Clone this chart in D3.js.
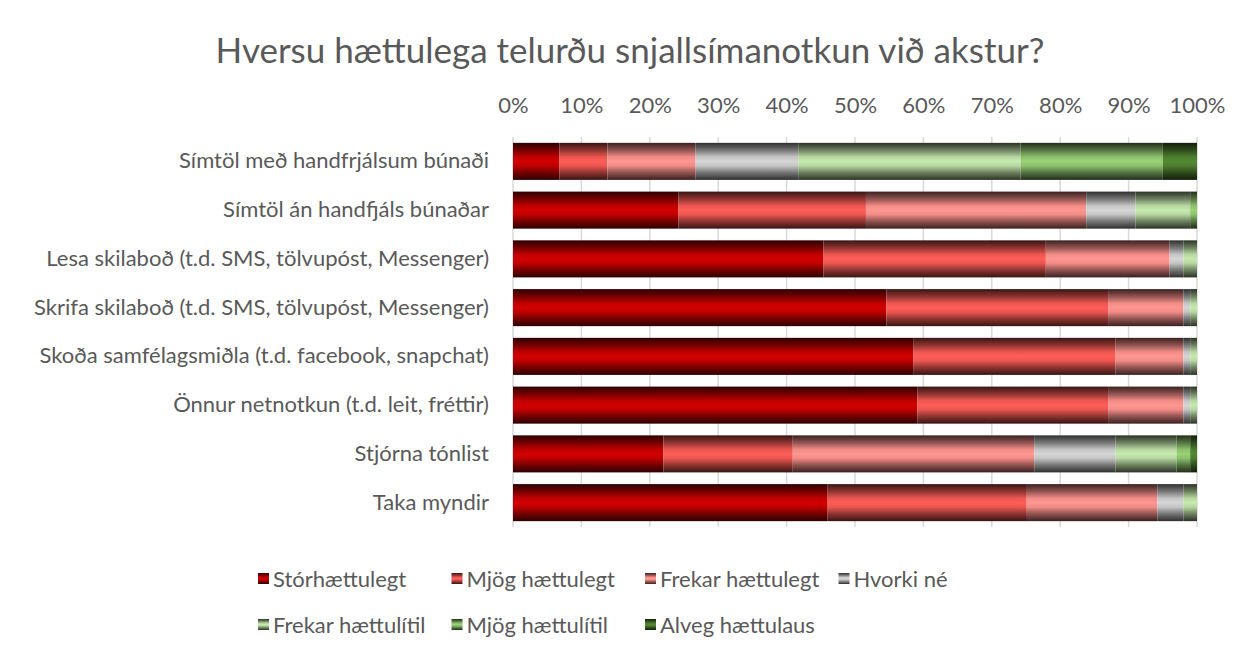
<!DOCTYPE html>
<html>
<head>
<meta charset="utf-8">
<script src="https://cdn.jsdelivr.net/npm/d3@7"></script>
<style>
    body { margin: 0; background: #fff; }
    svg text { font-family: Lato, "Open Sans", sans-serif; fill: #595959; }
</style>
</head>
<body>
<svg width="1236" height="650"></svg>
<script>
// chart data
const categories = [
    "Símtöl með handfrjálsum búnaði",
    "Símtöl án handfjáls búnaðar",
    "Lesa skilaboð (t.d. SMS, tölvupóst, Messenger)",
    "Skrifa skilaboð (t.d. SMS, tölvupóst, Messenger)",
    "Skoða samfélagsmiðla (t.d. facebook, snapchat)",
    "Önnur netnotkun (t.d. leit, fréttir)",
    "Stjórna tónlist",
    "Taka myndir"
];
const seriesNames = ["Stórhættulegt", "Mjög hættulegt", "Frekar hættulegt", "Hvorki né",
    "Frekar hættulítil", "Mjög hættulítil", "Alveg hættulaus"];
const storhaettulegt = [6.8, 24.2, 45.4, 54.6, 58.5, 59.1, 22.0, 46.0];
const mjogHaettulegt = [7.0, 27.4, 32.5, 32.4, 29.6, 27.9, 18.9, 29.0];
const frekarHaettulegt = [12.9, 32.2, 18.1, 11.0, 9.9, 11.0, 35.3, 19.2];
const hvorkiNe = [15.0, 7.2, 2.0, 1.0, 1.0, 1.0, 11.9, 3.8];
const frekarHaettulitil = [32.5, 8.0, 2.0, 1.0, 1.0, 1.0, 8.9, 2.0];
const mjogHaettulitil = [20.8, 1.0, 0, 0, 0, 0, 2.0, 0];
const alvegHaettulaus = [5.0, 0, 0, 0, 0, 0, 1.0, 0];
const tickValues = [0, 0.1, 0.2, 0.3, 0.4, 0.5, 0.6, 0.7, 0.8, 0.9, 1];

const seriesValues = [storhaettulegt, mjogHaettulegt, frekarHaettulegt, hvorkiNe,
    frekarHaettulitil, mjogHaettulitil, alvegHaettulaus];
const colors = ["#c00000", "#eb5650", "#f18b86", "#c4c4c4", "#b6d6a0", "#8cc06c", "#4d7d2e"];

const rows = categories.map((c, i) => {
    const row = { category: c };
    seriesNames.forEach((s, j) => row[s] = seriesValues[j][i] / 100);
    return row;
});
const stacked = d3.stack().keys(seriesNames)(rows);

const svg = d3.select("svg");
const x = d3.scaleLinear().domain([0, 1]).range([513, 1197]);
const y = d3.scaleBand().domain(categories).range([137, 527]).paddingInner(0.24).paddingOuter(0.12);

// gradients, dark at the edges like the excel style
const defs = svg.append("defs");
colors.forEach((c, i) => {
    const g = defs.append("linearGradient")
        .attr("id", "grad" + i)
        .attr("x1", 0).attr("y1", 0).attr("x2", 0).attr("y2", 1);
    const base = d3.color(c);
    const stops = [
        [0, base.darker(4)],
        [0.2, base.darker(1.4)],
        [0.38, base],
        [0.5, base.brighter(0.25)],
        [0.62, base],
        [0.8, base.darker(1.4)],
        [1, base.darker(4)]
    ];
    stops.forEach(s => g.append("stop").attr("offset", s[0]).attr("stop-color", s[1].formatHex()));
});

// title
svg.append("text")
    .attr("x", 630)
    .attr("y", 63)
    .attr("text-anchor", "middle")
    .attr("font-size", "35px")
    .text("Hversu hættulega telurðu snjallsímanotkun við akstur?");

// gridlines
svg.append("g")
    .selectAll("line")
    .data(tickValues)
    .join("line")
    .attr("x1", d => x(d))
    .attr("x2", d => x(d))
    .attr("y1", 137)
    .attr("y2", 527)
    .attr("stroke", "#d9d9d9")
    .attr("stroke-width", 1.5);

// top axis
const xAxis = svg.append("g")
    .attr("transform", "translate(0,116)")
    .call(d3.axisTop(x).tickValues(tickValues).tickFormat(d3.format(".0%")).tickSize(0));
xAxis.select(".domain").remove();
xAxis.selectAll("text")
    .attr("font-size", "22px")
    .attr("font-family", "Lato, sans-serif")
    .attr("fill", "#595959");

// category labels
const yAxis = svg.append("g")
    .attr("transform", "translate(489,0)")
    .call(d3.axisLeft(y).tickSize(0).tickPadding(0));
yAxis.select(".domain").remove();
yAxis.selectAll("text")
    .attr("font-size", "22px")
    .attr("font-family", "Lato, sans-serif")
    .attr("fill", "#595959");

// bars
svg.append("g")
    .selectAll("g")
    .data(stacked)
    .join("g")
    .attr("fill", (d, i) => "url(#grad" + i + ")")
    .selectAll("rect")
    .data(d => d.filter(p => p[1] - p[0] > 0))
    .join("rect")
    .attr("x", d => x(d[0]))
    .attr("y", d => y(d.data.category))
    .attr("width", d => x(d[1]) - x(d[0]))
    .attr("height", y.bandwidth());

// legend
const legendCols = 4, colWidth = 193.5;
const legend = svg.append("g")
    .selectAll("g")
    .data(seriesNames)
    .join("g")
    .attr("transform", (d, i) => `translate(${258 + (i % legendCols) * colWidth},${579 + Math.floor(i / legendCols) * 46})`);
legend.append("rect")
    .attr("x", 0)
    .attr("y", -6)
    .attr("width", 11)
    .attr("height", 11)
    .attr("fill", (d, i) => "url(#grad" + i + ")");
legend.append("text")
    .attr("x", 15)
    .attr("y", 0)
    .attr("dy", "0.35em")
    .attr("font-size", "22px")
    .text(d => d);
</script>
</body>
</html>
